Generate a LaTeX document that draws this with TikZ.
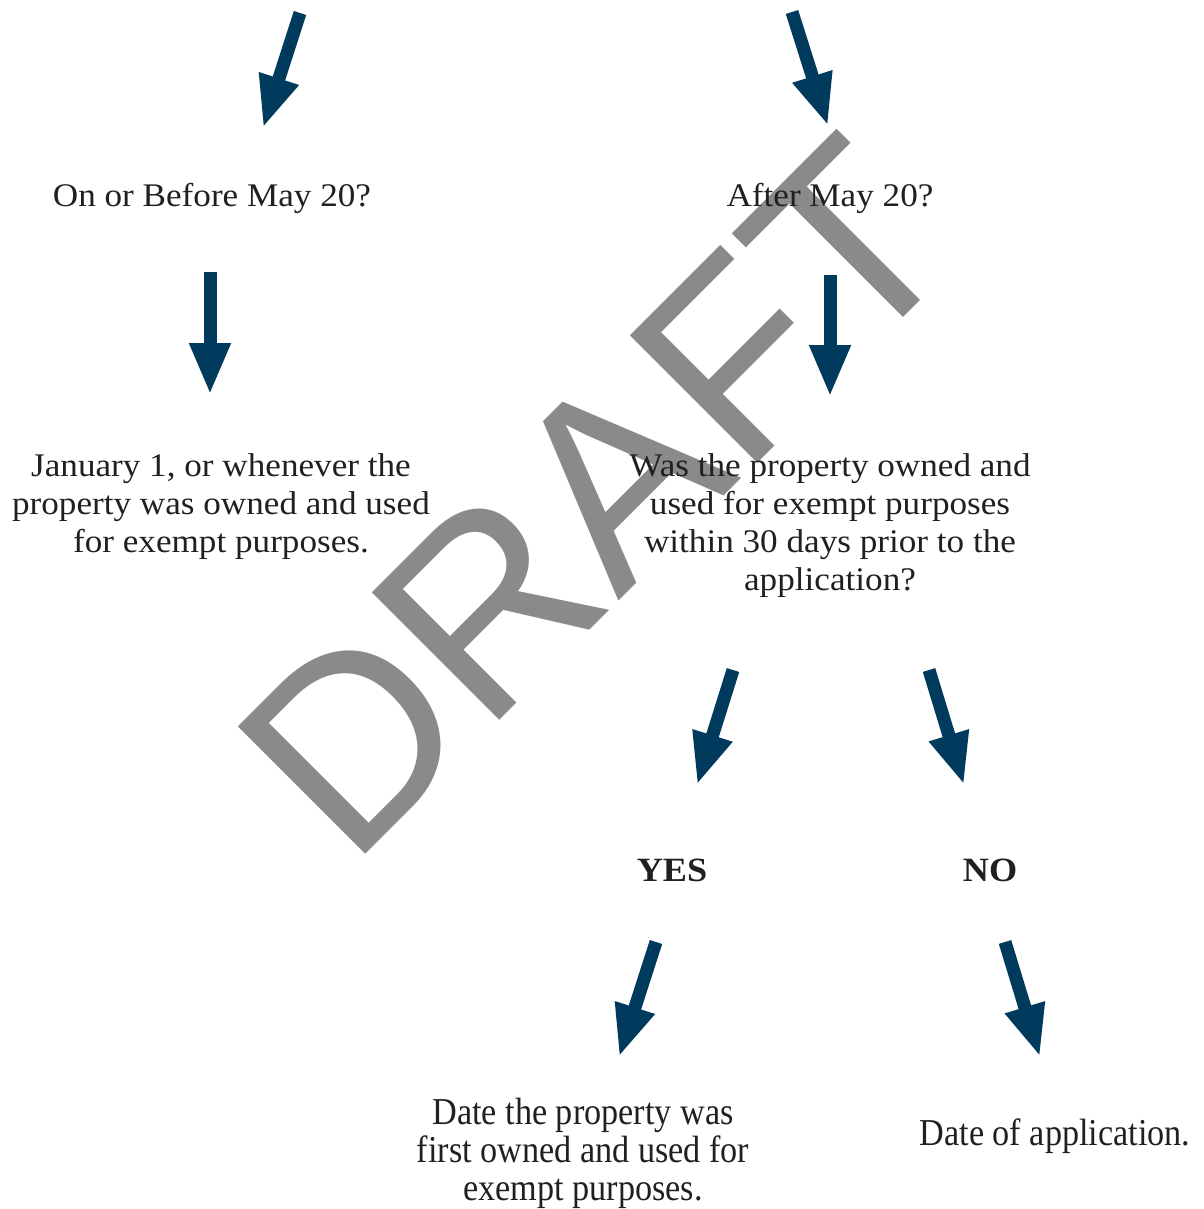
\documentclass[tikz,border=0pt]{standalone}
\usepackage{fontspec}
\setmainfont{Liberation Serif}[FakeStretch=1.065]
\newfontfamily\condfont{Liberation Serif}[FakeStretch=0.9]
\newfontfamily\markfont{Liberation Sans}
\usetikzlibrary{arrows.meta}
\definecolor{navy}{RGB}{0,58,92}
\definecolor{ink}{RGB}{35,31,32}
\definecolor{markgray}{RGB}{138,138,138}
\tikzset{%
    flow/.style={-{Triangle[length=52pt,width=38pt]}, line width=13pt, navy},
    qtext/.style={align=center, text=ink, inner sep=0pt,
        font=\fontsize{33}{38}\selectfont},
    ctext/.style={align=center, text=ink, inner sep=0pt,
        font=\condfont\fontsize{38}{38}\selectfont},
    answer/.style={text=ink, inner sep=0pt,
        font=\bfseries\fontsize{34}{38}\selectfont}
}

\begin{document}
\begin{tikzpicture}[x=1pt,y=-1pt]
\useasboundingbox (0,0) rectangle (1203,1209);

% watermark
\node[rotate=45, text=markgray, inner sep=0pt, font=\markfont\fontsize{262}{262}\selectfont] (draft) at (596,497) {DRAFT};

% questions and answers
\node[qtext] (before) at (212,198) {On or Before May 20?};
\node[qtext] (after) at (830,198) {After May 20?};
\node[qtext] (janfirst) at (221,507) {January 1, or whenever the\\property was owned and used\\for exempt purposes.};
\node[qtext] (within) at (830,526) {Was the property owned and\\used for exempt purposes\\within 30 days prior to the\\application?};
\node[answer] (yes) at (672,870) {YES};
\node[answer] (no) at (990,870) {NO};
\node[ctext] (firstowned) at (583,1153) {Date the property was\\first owned and used for\\exempt purposes.};
\node[ctext] (appdate) at (1055,1136) {Date of application.};

% arrow ends
\coordinate (s1) at (300,13);   \coordinate (t1) at (263,128);
\coordinate (s2) at (792,12);   \coordinate (t2) at (828,126);
\coordinate (s3) at (210,272);  \coordinate (t3) at (210,395);
\coordinate (s4) at (830,275);  \coordinate (t4) at (830,397);
\coordinate (s5) at (733,670);  \coordinate (t5) at (697,785);
\coordinate (s6) at (929,670);  \coordinate (t6) at (964,785);
\coordinate (s7) at (656,942);  \coordinate (t7) at (619,1057);
\coordinate (s8) at (1005,942); \coordinate (t8) at (1040,1057);

\draw[flow] (s1) -- (t1);
\draw[flow] (s2) -- (t2);
\draw[flow] (s3) -- (t3);
\draw[flow] (s4) -- (t4);
\draw[flow] (s5) -- (t5);
\draw[flow] (s6) -- (t6);
\draw[flow] (s7) -- (t7);
\draw[flow] (s8) -- (t8);
\end{tikzpicture}
\end{document}
